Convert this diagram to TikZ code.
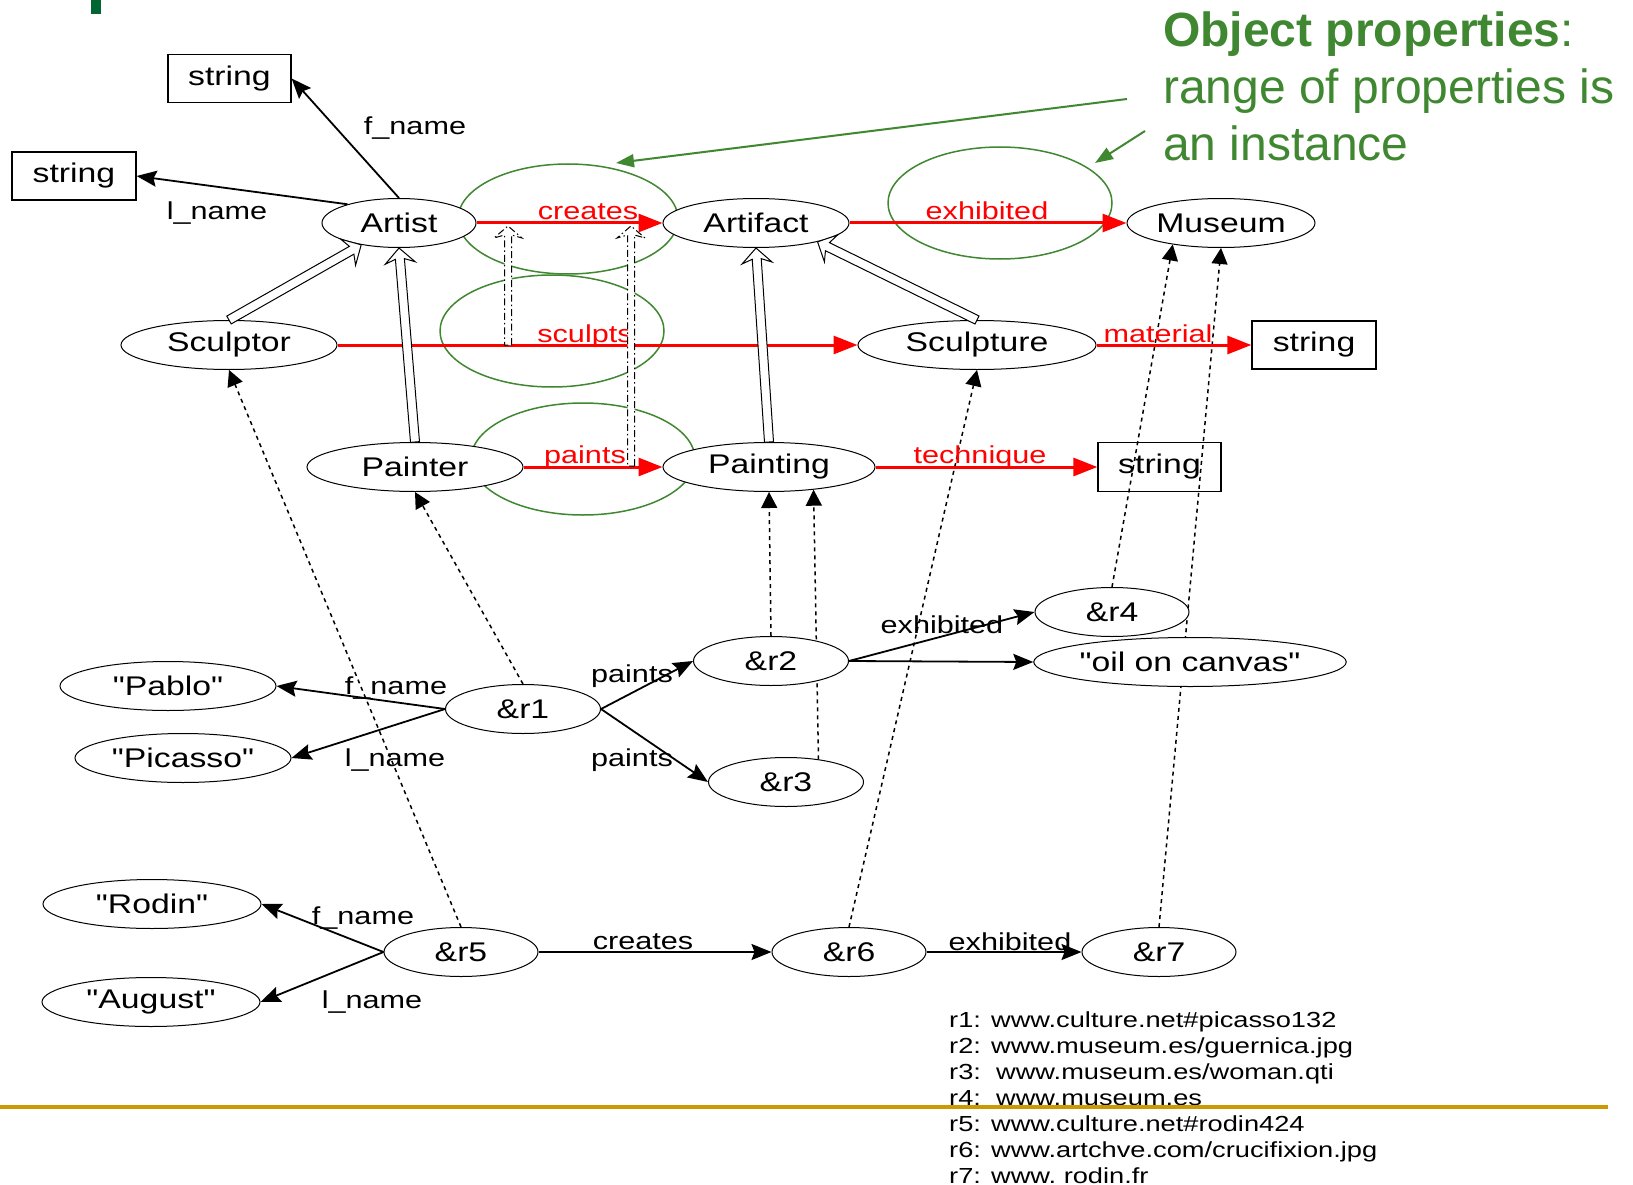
\documentclass[tikz,border=0pt]{standalone}
\usepackage{fontspec}
\setmainfont{Liberation Sans}[FakeStretch=1.25, Ligatures=TeXOff]
\newfontfamily\calloutfont{Liberation Sans}
\usetikzlibrary{shapes.geometric,arrows.meta,calc}

\definecolor{propgreen}{RGB}{63,135,48}
\definecolor{markgreen}{RGB}{0,102,51}
\definecolor{rulegold}{RGB}{204,153,0}

\pgfdeclarelayer{links}
\pgfsetlayers{links,main}

% outlined (hollow) arrow: #1 style, #2 from, #3 to, #4 half shaft width,
% #5 half head width, #6 head length, #7 where the head back meets the shaft
\newcommand\hollowarrow[7]{%
  \path let \p1=(#2), \p2=(#3) in \pgfextra{%
    \pgfmathsetmacro\haAng{atan2(\y2-\y1,\x2-\x1)}%
    \pgfmathsetmacro\haLen{veclen(\x2-\x1,\y2-\y1)}%
    \xdef\haAng{\haAng}\xdef\haLen{\haLen}%
    \xdef\haX{\x1}\xdef\haY{\y1}};
  \begin{scope}[shift={(\haX,\haY)}, rotate=\haAng]
    \path[#1] (0pt,-#4pt) -- ({\haLen pt-#7pt},-#4pt) -- ({\haLen pt-#6pt},-#5pt)
      -- (\haLen pt,0pt) -- ({\haLen pt-#6pt},#5pt) -- ({\haLen pt-#7pt},#4pt)
      -- (0pt,#4pt) -- cycle;
  \end{scope}}

\tikzset{
  cls/.style={ellipse, draw, fill=white, line width=1pt, inner sep=0pt,
    minimum height=49pt, font=\fontsize{27}{32}\selectfont},
  strbox/.style={rectangle, draw, line width=1.3pt, inner sep=0pt,
    minimum width=123pt, minimum height=48pt, font=\fontsize{27}{32}\selectfont},
  rng/.style={ellipse, draw=propgreen, line width=1.5pt, inner sep=0pt},
  prop/.style={red, line width=3pt, -{Triangle[length=24pt,width=18pt]}},
  plink/.style={line width=1.8pt, -{Stealth[length=20pt,width=16pt,inset=3pt]}},
  typeof/.style={line width=1.5pt, dash pattern=on 4pt off 4pt,
    -{Triangle[length=16pt,width=16pt]}},
  note/.style={propgreen, line width=2pt, -{Triangle[length=18pt,width=13pt]}},
  plabel/.style={text=red, anchor=base, inner sep=0pt, font=\fontsize{24.5}{29}\selectfont},
  elabel/.style={anchor=base, inner sep=0pt, font=\fontsize{24.5}{29}\selectfont},
  refline/.style={anchor=base west, inner sep=0pt, font=\fontsize{21.8}{26}\selectfont},
  subcls/.style={draw, fill=white, line width=1pt},
  subprop/.style={draw, fill=white, line width=1pt,
    dash pattern=on 7pt off 3pt on 1.5pt off 3pt},
  callout/.style={anchor=base west, inner sep=0pt, text=propgreen,
    font=\calloutfont\fontsize{48}{57}\selectfont},
}

\begin{document}
\begin{tikzpicture}[x=1pt,y=-1pt]
\useasboundingbox (0,0) rectangle (1633,1185);

% ---- schema classes ----
\node[cls, minimum width=154pt] (artist)    at (399,223)  {Artist};
\node[cls, minimum width=186pt] (artifact)  at (756,223)  {Artifact};
\node[cls, minimum width=188pt] (museum)    at (1221,223) {Museum};
\node[cls, minimum width=216pt] (sculptor)  at (229,345)  {Sculptor};
\node[cls, minimum width=238pt] (sculpture) at (977,345)  {Sculpture};
\node[cls, minimum width=216pt] (painter)   at (415,467)  {Painter};
\node[cls, minimum width=212pt] (painting)  at (769,467)  {Painting};

\node[strbox] (strF) at (229.5,78.5) {string};
\node[strbox, minimum width=124pt] (strL) at (74,176) {string};
\node[strbox, minimum width=124pt] (strM) at (1314,345) {string};
\node[strbox, minimum height=49pt] (strT) at (1159.5,467) {string};

% ---- instances ----
\node[cls, minimum width=216pt] (pablo)   at (168,686)  {"Pablo"};
\node[cls, minimum width=216pt] (picasso) at (183,758)  {"Picasso"};
\node[cls, minimum width=155pt] (r1) at (523,709) {\&r1};
\node[cls, minimum width=155pt] (r2) at (771,661) {\&r2};
\node[cls, minimum width=155pt] (r3) at (786,782) {\&r3};
\node[cls, minimum width=154pt] (r4) at (1112,612) {\&r4};
\node[cls, minimum width=310pt] (oil) at (1190,662) {"oil on canvas"};
\node[cls, minimum width=218pt] (rodin)  at (152,904)  {"Rodin"};
\node[cls, minimum width=218pt] (august) at (151,1002) {"August"};
\node[cls, minimum width=154pt] (r5) at (461,952)  {\&r5};
\node[cls, minimum width=154pt] (r6) at (849,952)  {\&r6};
\node[cls, minimum width=154pt] (r7) at (1159,952) {\&r7};

\begin{pgfonlayer}{links}
  \fill[white] (0,0) rectangle (1633,1185);
  \fill[markgreen] (91,0) rectangle (101,14);

  % ranges of the object properties
  \node[rng, minimum width=220pt, minimum height=110pt] (rngcreates) at (568,219) {};
  \node[rng, minimum width=224pt, minimum height=112pt] (rngexhib)   at (1000,203) {};
  \node[rng, minimum width=224pt, minimum height=112pt] (rngsculpts) at (552,331) {};
  \node[rng, minimum width=224pt, minimum height=112pt] (rngpaints)  at (583,459) {};

  \coordinate (calloutA) at (1127,99);
  \coordinate (calloutAend) at (616,163);
  \coordinate (calloutB) at (1145,131);
  \coordinate (calloutBend) at (1095,163);
  \draw[note] (calloutA) -- (calloutAend);
  \draw[note] (calloutB) -- (calloutBend);

  % data properties of Artist
  \draw[plink] (artist.north) -- (strF.east);
  \draw[plink] (artist.160) -- (strL.east);

  % instance links
  \draw[plink] (r1.west) -- (pablo.east);
  \draw[plink] (r1.west) -- (picasso.east);
  \draw[plink] (r1.east) -- (r2.west);
  \draw[plink] (r1.east) -- (r3.west);
  \draw[plink] (r2.east) -- (r4.west);
  \draw[plink] (r2.east) -- (oil.west);
  \draw[plink] (r5.west) -- (rodin.east);
  \draw[plink] (r5.west) -- (august.east);
  \draw[plink] (r5.east) -- (r6.west);
  \draw[plink] (r6.east) -- (r7.west);

  % typing of the instances
  \draw[typeof] (r1.north) -- (painter.south);
  \draw[typeof] (r5.north) -- (sculptor.south);
  \draw[typeof] (r2.north) -- (painting.south);
  \draw[typeof] (r3.35) -- (painting.-27);
  \draw[typeof] (r6.north) -- (sculpture.south);
  \draw[typeof] (r4.north) -- (museum.204);
  \draw[typeof] (r7.north) -- (museum.south);

  % schema properties
  \draw[prop] (artist.east) -- (artifact.west);
  \draw[prop] (artifact.east) -- (museum.west);
  \draw[prop] (sculptor.east) -- (sculpture.west);
  \draw[prop] (sculpture.east) -- (strM.west);
  \draw[prop] (painter.east) -- (painting.west);
  \draw[prop] (painting.east) -- (strT.west);
\end{pgfonlayer}

% property labels
\node[plabel] at (588,220) {creates};
\node[plabel] at (987,220) {exhibited};
\node[plabel] at (585,342) {sculpts};
\node[plabel] at (1158,342) {material};
\node[plabel] at (585,463) {paints};
\node[plabel] at (980,463) {technique};

\node[elabel] at (415,135) {f\_name};
\node[elabel] at (217,219) {l\_name};
\node[elabel] at (396,694) {f\_name};
\node[elabel] at (395,766) {l\_name};
\node[elabel] at (632,682) {paints};
\node[elabel] at (632,766) {paints};
\node[elabel] at (942,633) {exhibited};
\node[elabel] at (363,924) {f\_name};
\node[elabel] at (372,1008) {l\_name};
\node[elabel] at (643,949) {creates};
\node[elabel] at (1010,950) {exhibited};

% subclass arrows
\hollowarrow{subcls}{sculptor.north}{artist.210}{4.5}{15}{15}{11}
\hollowarrow{subcls}{painter.north}{artist.south}{4.5}{15}{15}{11}
\hollowarrow{subcls}{painting.north}{artifact.south}{4.5}{15}{15}{11}
\hollowarrow{subcls}{sculpture.north}{artifact.-17}{4.5}{15}{15}{11}

% subproperty arrows
\coordinate (sculptsfoot) at (508,345);
\coordinate (createsA) at (508,226);
\coordinate (paintsfoot) at (631,466);
\coordinate (createsB) at (631,226);
\hollowarrow{subprop}{sculptsfoot}{createsA}{3.5}{14}{12}{9}
\hollowarrow{subprop}{paintsfoot}{createsB}{3.5}{14}{12}{9}

% callout text
\node[callout] at (1163,47) {\textbf{Object properties}:};
\node[callout] at (1163,104) {range of properties is};
\node[callout] at (1163,161) {an instance};

% resource identifiers
\node[refline] at (949,1027) {r1: www.culture.net\#picasso132};
\node[refline] at (949,1053) {r2: www.museum.es/guernica.jpg};
\node[refline] at (949,1079) {r3:\ \ www.museum.es/woman.qti};
\node[refline] at (949,1105) {r4:\ \ www.museum.es};
\node[refline] at (949,1131) {r5: www.culture.net\#rodin424};
\node[refline] at (949,1157) {r6: www.artchve.com/crucifixion.jpg};
\node[refline] at (949,1183) {r7: www.\ rodin.fr};

\fill[rulegold] (0,1104.7) rectangle (1608,1108.7);
\end{tikzpicture}
\end{document}
